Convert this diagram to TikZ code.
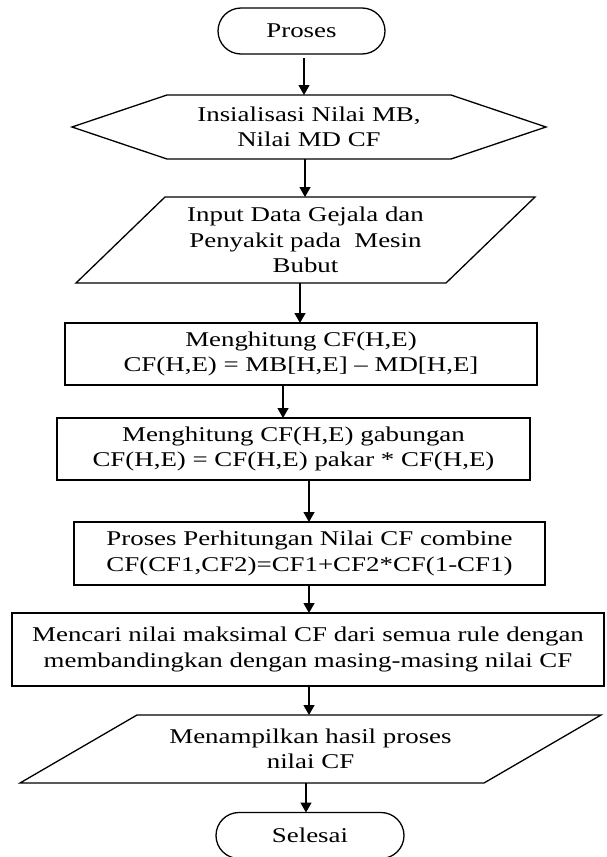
\documentclass[tikz,border=0pt]{standalone}
\usepackage{fontspec}
\setmainfont[FakeStretch=1.28]{Liberation Serif}
\usetikzlibrary{arrows.meta,shapes.misc}
\begin{document}
\begin{tikzpicture}[x=1pt,y=-1pt,
  every node/.style={inner sep=0pt,outer sep=0pt,align=center,font=\fontsize{21}{25.5}\selectfont},
  box/.style={draw,line width=1.3pt,rectangle},
  term/.style={draw,line width=1.3pt,rounded rectangle},
  shp/.style={line width=1.3pt,line join=miter},
  arr/.style={line width=1.3pt,-{Triangle[width=11pt,length=10pt]}}]
\useasboundingbox (0,0) rectangle (606,857);
% nodes
\node[term,minimum width=167pt,minimum height=46pt] (start) at (301.5,31) {Proses};
\node[minimum width=474pt,minimum height=64pt] (hex) at (309,127) {Insialisasi Nilai MB,\\Nilai MD CF};
\draw[shp] (hex.west) -- ([xshift=95pt]hex.north west) -- ([xshift=-95pt]hex.north east) -- (hex.east) -- ([xshift=-95pt]hex.south east) -- ([xshift=95pt]hex.south west) -- cycle;
\node[minimum width=459pt,minimum height=86pt] (inp) at (305.5,240) {Input Data Gejala dan\\Penyakit pada~ Mesin\\Bubut};
\draw[shp] (inp.south west) -- ([xshift=89pt]inp.north west) -- (inp.north east) -- ([xshift=-89pt]inp.south east) -- cycle;
\node[box,minimum width=472pt,minimum height=62pt] (r1) at (301,354) {Menghitung CF(H,E)\\CF(H,E) = MB[H,E] – MD[H,E]};
\node[box,minimum width=473pt,minimum height=62pt] (r2) at (293.5,449) {Menghitung CF(H,E) gabungan\\CF(H,E) = CF(H,E) pakar * CF(H,E)};
\node[box,minimum width=471pt,minimum height=63pt] (r3) at (309.5,553.5) {Proses Perhitungan Nilai CF combine\\CF(CF1,CF2)=CF1+CF2*CF(1-CF1)};
\node[box,minimum width=592pt,minimum height=73pt] (r4) at (308,649.5) {Mencari nilai maksimal CF dari semua rule dengan\\membandingkan dengan masing-masing nilai CF};
\node[minimum width=581pt,minimum height=68pt] (out) at (310.5,749) {Menampilkan hasil proses\\nilai CF};
\draw[shp] (out.south west) -- ([xshift=117pt]out.north west) -- (out.north east) -- ([xshift=-117pt]out.south east) -- cycle;
\node[term,minimum width=188pt,minimum height=46pt] (stop) at (310,835.5) {Selesai};
% arrow columns
\coordinate (a1) at (304,0);
\coordinate (a2) at (305,0);
\coordinate (a3) at (300,0);
\coordinate (a4) at (283,0);
\coordinate (a5) at (309,0);
\coordinate (a6) at (309,0);
\coordinate (a7) at (309,0);
\coordinate (a8) at (306,0);
\draw[arr] ([yshift=-4pt]start.south -| a1) -- (hex.north -| a1);
\draw[arr] (hex.south -| a2) -- (inp.north -| a2);
\draw[arr] (inp.south -| a3) -- (r1.north -| a3);
\draw[arr] (r1.south -| a4) -- (r2.north -| a4);
\draw[arr] (r2.south -| a5) -- (r3.north -| a5);
\draw[arr] (r3.south -| a6) -- (r4.north -| a6);
\draw[arr] (r4.south -| a7) -- (out.north -| a7);
\draw[arr] (out.south -| a8) -- (stop.north -| a8);
\end{tikzpicture}
\end{document}
